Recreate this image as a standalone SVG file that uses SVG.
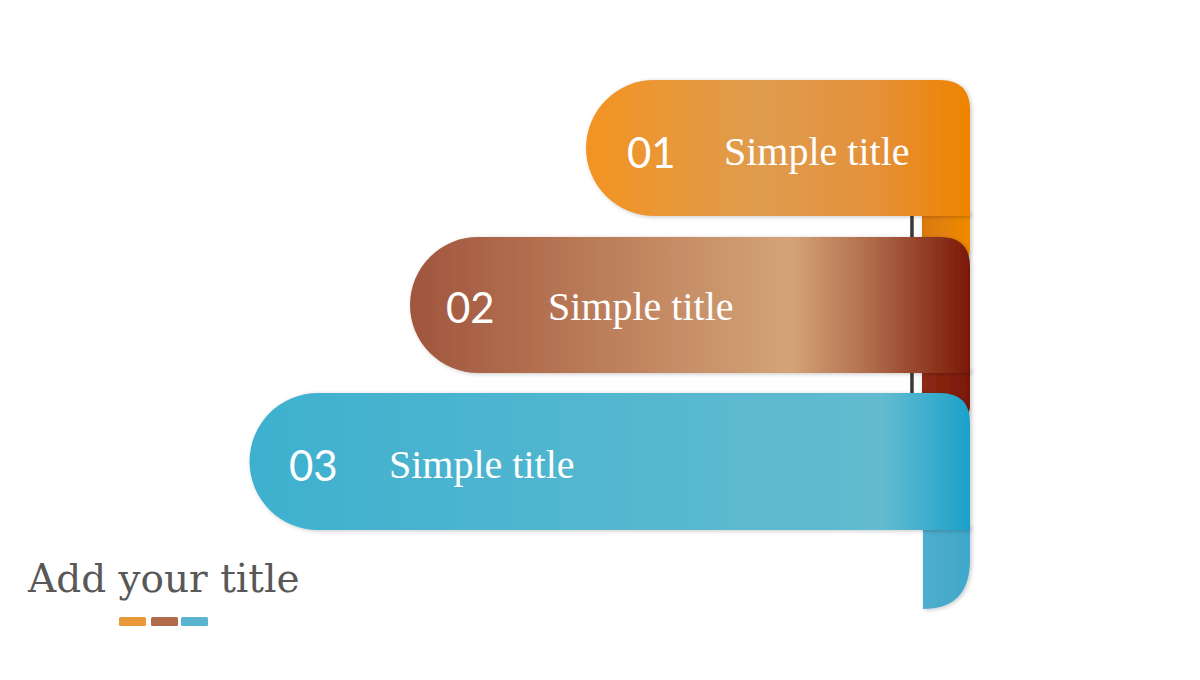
<svg xmlns="http://www.w3.org/2000/svg" width="1200" height="680" viewBox="0 0 1200 680">
<defs>
<style>
.num{font-family:"Lato","Open Sans",sans-serif;font-size:42px;fill:#fff;}
.ttl{font-family:"Liberation Serif","Times New Roman",serif;font-size:40px;fill:#fff;}
.main{font-family:"DejaVu Serif","Liberation Serif",serif;font-size:39px;fill:#585858;}
</style>
<linearGradient id="g1" x1="586" y1="0" x2="970" y2="0" gradientUnits="userSpaceOnUse">
<stop offset="0" stop-color="#F39322"/><stop offset="0.45" stop-color="#DF9C4E"/><stop offset="0.75" stop-color="#E4913A"/><stop offset="1" stop-color="#EF8300"/>
</linearGradient>
<linearGradient id="g2" x1="410" y1="0" x2="970" y2="0" gradientUnits="userSpaceOnUse">
<stop offset="0" stop-color="#A0553D"/><stop offset="0.4" stop-color="#C0845F"/><stop offset="0.68" stop-color="#D4A478"/><stop offset="0.82" stop-color="#B06C4C"/><stop offset="1" stop-color="#7A1806"/>
</linearGradient>
<linearGradient id="g3" x1="250" y1="0" x2="970" y2="0" gradientUnits="userSpaceOnUse">
<stop offset="0" stop-color="#3EB0CF"/><stop offset="0.5" stop-color="#54B7CF"/><stop offset="0.88" stop-color="#63BBCF"/><stop offset="1" stop-color="#1BA1CA"/>
</linearGradient>
<linearGradient id="f1" x1="0" y1="0" x2="1" y2="0">
<stop offset="0" stop-color="#D97A10"/><stop offset="1" stop-color="#F08A00"/>
</linearGradient>
<linearGradient id="f2" x1="0" y1="0" x2="1" y2="0">
<stop offset="0" stop-color="#8E2A16"/><stop offset="1" stop-color="#7A1806"/>
</linearGradient>
<linearGradient id="f3" x1="0" y1="0" x2="1" y2="0">
<stop offset="0" stop-color="#4FADCC"/><stop offset="1" stop-color="#3FA8CC"/>
</linearGradient>
<linearGradient id="pole" x1="0" y1="0" x2="1" y2="0">
<stop offset="0" stop-color="#777"/><stop offset="0.5" stop-color="#222"/><stop offset="1" stop-color="#888"/>
</linearGradient>
<filter id="sh" x="-10%" y="-20%" width="120%" height="140%">
<feDropShadow dx="1.5" dy="1" stdDeviation="2" flood-color="#000" flood-opacity="0.22"/>
</filter>
</defs>

<rect x="910" y="205" width="4" height="195" fill="url(#pole)"/>

<g id="banner1">
<path d="M922,212 H970 V248 Q970,265 955,265 H922 Z" fill="url(#f1)" filter="url(#sh)"/>
<path d="M654,80 H940 Q970,80 970,110 V216 H654 A68,68 0 0 1 654,80 Z" fill="url(#g1)" filter="url(#sh)"/>
<text class="num" x="627" y="168">01</text>
<text class="ttl" x="724" y="165">Simple title</text>
</g>

<g id="banner2">
<path d="M922,369 H970 V405 Q970,420 955,420 H922 Z" fill="url(#f2)" filter="url(#sh)"/>
<path d="M478,237 H940 Q970,237 970,267 V373 H478 A68,68 0 0 1 478,237 Z" fill="url(#g2)" filter="url(#sh)"/>
<text class="num" x="446" y="323">02</text>
<text class="ttl" x="548" y="320">Simple title</text>
</g>

<g id="banner3">
<path d="M923,526 V609 Q970,609 970,560 V526 Z" fill="url(#f3)" filter="url(#sh)"/>
<path d="M318,393 H940 Q970,393 970,423 V530 H318 A68.5,68.5 0 0 1 318,393 Z" fill="url(#g3)" filter="url(#sh)"/>
<text class="num" x="289" y="481">03</text>
<text class="ttl" x="389" y="478">Simple title</text>
</g>

<g id="title">
<text class="main" x="28" y="592">Add your title</text>
<rect x="119" y="617" width="27" height="9" rx="1.5" fill="#E89A3A"/>
<rect x="151" y="617" width="27" height="9" rx="1.5" fill="#B06A4C"/>
<rect x="181" y="617" width="27" height="9" rx="1.5" fill="#5BB4CF"/>
</g>
</svg>
